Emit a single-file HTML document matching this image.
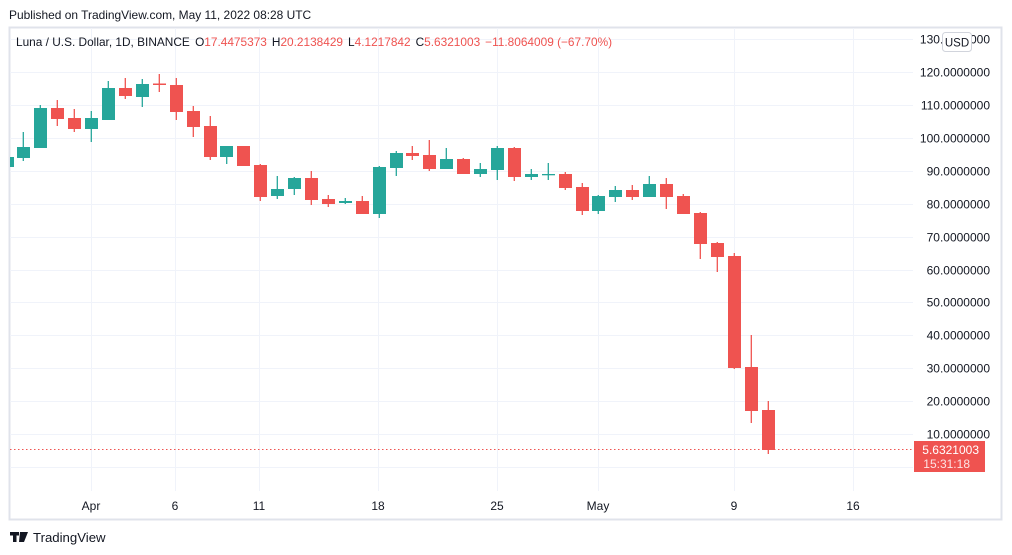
<!DOCTYPE html>
<html><head><meta charset="utf-8"><style>
html,body{margin:0;padding:0;background:#fff;width:1012px;height:555px;overflow:hidden}
svg{display:block;font-family:"Liberation Sans","DejaVu Sans",sans-serif}
</style></head><body>
<svg width="1012" height="555" viewBox="0 0 1012 555" xmlns="http://www.w3.org/2000/svg">
<text x="9" y="19" font-size="11.95" fill="#131722">Published on TradingView.com, May 11, 2022 08:28 UTC</text>
<rect x="9.5" y="27.5" width="992" height="492" fill="#fff" stroke="#e0e3eb" stroke-width="2"/>
<g stroke="#f0f3fa" stroke-width="1">
<line x1="10" x2="913" y1="39.5" y2="39.5"/><line x1="10" x2="913" y1="72.5" y2="72.5"/><line x1="10" x2="913" y1="105.5" y2="105.5"/><line x1="10" x2="913" y1="138.5" y2="138.5"/><line x1="10" x2="913" y1="171.5" y2="171.5"/><line x1="10" x2="913" y1="204.5" y2="204.5"/><line x1="10" x2="913" y1="237.5" y2="237.5"/><line x1="10" x2="913" y1="270.5" y2="270.5"/><line x1="10" x2="913" y1="302.5" y2="302.5"/><line x1="10" x2="913" y1="335.5" y2="335.5"/><line x1="10" x2="913" y1="368.5" y2="368.5"/><line x1="10" x2="913" y1="401.5" y2="401.5"/><line x1="10" x2="913" y1="434.5" y2="434.5"/><line x1="10" x2="913" y1="467.5" y2="467.5"/>
<line y1="28" y2="491" x1="91.5" x2="91.5"/><line y1="28" y2="491" x1="175.5" x2="175.5"/><line y1="28" y2="491" x1="259.5" x2="259.5"/><line y1="28" y2="491" x1="378.5" x2="378.5"/><line y1="28" y2="491" x1="497.5" x2="497.5"/><line y1="28" y2="491" x1="598.5" x2="598.5"/><line y1="28" y2="491" x1="734.5" x2="734.5"/><line y1="28" y2="491" x1="853.5" x2="853.5"/>
</g>
<g stroke-width="1.3">
<g fill="#26a69a" stroke="#26a69a">
<rect x="10" y="157" width="4" height="10" stroke="none"/>
<line x1="23.3" x2="23.3" y1="132" y2="161"/><rect x="17" y="147" width="13" height="11" stroke="none"/>
<line x1="40.3" x2="40.3" y1="105" y2="148"/><rect x="34" y="108" width="13" height="40" stroke="none"/>
<line x1="91.3" x2="91.3" y1="111" y2="142"/><rect x="85" y="118" width="13" height="11" stroke="none"/>
<line x1="108.3" x2="108.3" y1="81" y2="120"/><rect x="102" y="88" width="13" height="32" stroke="none"/>
<line x1="142.3" x2="142.3" y1="79" y2="107"/><rect x="136" y="84" width="13" height="13" stroke="none"/>
<line x1="226.7" x2="226.7" y1="146" y2="164"/><rect x="220" y="146" width="13" height="11" stroke="none"/>
<line x1="277.3" x2="277.3" y1="176" y2="199"/><rect x="271" y="189" width="13" height="7" stroke="none"/>
<line x1="294.3" x2="294.3" y1="177" y2="195"/><rect x="288" y="178" width="13" height="11" stroke="none"/>
<line x1="345.3" x2="345.3" y1="198" y2="204"/><rect x="339" y="201" width="13" height="2" stroke="none"/>
<line x1="379.3" x2="379.3" y1="166" y2="218"/><rect x="373" y="167" width="13" height="47" stroke="none"/>
<line x1="396.3" x2="396.3" y1="151" y2="176"/><rect x="390" y="153" width="13" height="15" stroke="none"/>
<line x1="446.3" x2="446.3" y1="148" y2="169"/><rect x="440" y="159" width="13" height="10" stroke="none"/>
<line x1="480.3" x2="480.3" y1="163" y2="177"/><rect x="474" y="169" width="13" height="5" stroke="none"/>
<line x1="497.3" x2="497.3" y1="146" y2="180"/><rect x="491" y="148" width="13" height="22" stroke="none"/>
<line x1="531.3" x2="531.3" y1="169" y2="180"/><rect x="525" y="174" width="13" height="3" stroke="none"/>
<line x1="548.3" x2="548.3" y1="163" y2="180"/><rect x="542" y="174" width="13" height="1.3" stroke="none"/>
<line x1="598.3" x2="598.3" y1="195" y2="214"/><rect x="592" y="196" width="13" height="15" stroke="none"/>
<line x1="615.3" x2="615.3" y1="186" y2="202"/><rect x="609" y="190" width="13" height="7" stroke="none"/>
<line x1="649.3" x2="649.3" y1="176" y2="197"/><rect x="643" y="184" width="13" height="13" stroke="none"/>
</g>
<g fill="#ef5350" stroke="#ef5350">
<line x1="57.3" x2="57.3" y1="100" y2="126"/><rect x="51" y="108" width="13" height="11" stroke="none"/>
<line x1="74.3" x2="74.3" y1="109" y2="132"/><rect x="68" y="118" width="13" height="11" stroke="none"/>
<line x1="125.3" x2="125.3" y1="78" y2="99"/><rect x="119" y="88" width="13" height="8" stroke="none"/>
<line x1="159.3" x2="159.3" y1="74" y2="92"/><rect x="153" y="83.5" width="13" height="1.5" stroke="none"/>
<line x1="176.3" x2="176.3" y1="78" y2="120"/><rect x="170" y="85" width="13" height="27" stroke="none"/>
<line x1="193.3" x2="193.3" y1="106" y2="137"/><rect x="187" y="111" width="13" height="16" stroke="none"/>
<line x1="210.3" x2="210.3" y1="116" y2="160"/><rect x="204" y="126" width="13" height="31" stroke="none"/>
<rect x="237" y="146" width="13" height="20" stroke="none"/>
<line x1="260.3" x2="260.3" y1="164" y2="201"/><rect x="254" y="165" width="13" height="32" stroke="none"/>
<line x1="311.3" x2="311.3" y1="171" y2="205"/><rect x="305" y="178" width="13" height="22" stroke="none"/>
<line x1="328.3" x2="328.3" y1="195" y2="207"/><rect x="322" y="199" width="13" height="5" stroke="none"/>
<line x1="362.3" x2="362.3" y1="196" y2="214"/><rect x="356" y="201" width="13" height="13" stroke="none"/>
<line x1="412.3" x2="412.3" y1="146" y2="160"/><rect x="406" y="153" width="13" height="3" stroke="none"/>
<line x1="429.3" x2="429.3" y1="140" y2="171"/><rect x="423" y="155" width="13" height="14" stroke="none"/>
<line x1="463.3" x2="463.3" y1="158" y2="174"/><rect x="457" y="159" width="13" height="15" stroke="none"/>
<line x1="514.3" x2="514.3" y1="147" y2="181"/><rect x="508" y="148" width="13" height="29" stroke="none"/>
<line x1="565.3" x2="565.3" y1="172" y2="190"/><rect x="559" y="174" width="13" height="14" stroke="none"/>
<line x1="582.3" x2="582.3" y1="183" y2="215"/><rect x="576" y="187" width="13" height="24" stroke="none"/>
<line x1="632.3" x2="632.3" y1="185" y2="200"/><rect x="626" y="190" width="13" height="7" stroke="none"/>
<line x1="666.3" x2="666.3" y1="178" y2="209"/><rect x="660" y="184" width="13" height="13" stroke="none"/>
<line x1="683.3" x2="683.3" y1="194" y2="214"/><rect x="677" y="196" width="13" height="18" stroke="none"/>
<line x1="700.3" x2="700.3" y1="212" y2="259"/><rect x="694" y="213" width="13" height="31" stroke="none"/>
<line x1="717.3" x2="717.3" y1="242" y2="272"/><rect x="711" y="243" width="13" height="14" stroke="none"/>
<line x1="734.3" x2="734.3" y1="253" y2="369"/><rect x="728" y="256" width="13" height="112" stroke="none"/>
<line x1="751.3" x2="751.3" y1="335" y2="423"/><rect x="745" y="367" width="13" height="44" stroke="none"/>
<line x1="768.3" x2="768.3" y1="401" y2="454"/><rect x="762" y="410" width="13" height="40" stroke="none"/>
</g>
</g>
<line x1="10" x2="913" y1="449.5" y2="449.5" stroke="#ef5350" stroke-width="1" stroke-dasharray="1.5,2.5"/>
<g font-size="12" fill="#131722" text-anchor="end">
<text x="990" y="43.5">130.0000000</text><text x="990" y="76.5">120.0000000</text><text x="990" y="109.5">110.0000000</text><text x="990" y="142.5">100.0000000</text><text x="990" y="175.5">90.0000000</text><text x="990" y="208.5">80.0000000</text><text x="990" y="241.5">70.0000000</text><text x="990" y="274.5">60.0000000</text><text x="990" y="306.5">50.0000000</text><text x="990" y="339.5">40.0000000</text><text x="990" y="372.5">30.0000000</text><text x="990" y="405.5">20.0000000</text><text x="990" y="438.5">10.0000000</text>
</g>
<rect x="942.5" y="32.5" width="29" height="19" rx="3" fill="#fff" stroke="#d1d4dc"/>
<text x="957" y="46.5" font-size="11.5" fill="#131722" text-anchor="middle">USD</text>
<rect x="914" y="441" width="71" height="31" fill="#ef5350"/>
<text x="979" y="454" font-size="12" fill="#fff" text-anchor="end">5.6321003</text>
<text x="970" y="468" font-size="12" fill="#fde3e3" text-anchor="end">15:31:18</text>
<g font-size="12" fill="#131722" text-anchor="middle">
<text x="91" y="510">Apr</text><text x="175" y="510">6</text><text x="259" y="510">11</text><text x="378" y="510">18</text><text x="497" y="510">25</text><text x="598" y="510">May</text><text x="734" y="510">9</text><text x="853" y="510">16</text>
</g>
<text x="16" y="46" font-size="11.85" fill="#131722">Luna / U.S. Dollar, 1D, BINANCE <tspan dx="2">O</tspan><tspan fill="#ef5350">17.4475373</tspan><tspan dx="5">H</tspan><tspan fill="#ef5350">20.2138429</tspan><tspan dx="5">L</tspan><tspan fill="#ef5350">4.1217842</tspan><tspan dx="5">C</tspan><tspan fill="#ef5350">5.6321003</tspan><tspan dx="5" fill="#ef5350">−11.8064009 (−67.70%)</tspan></text>
<g fill="#131722">
<rect x="10" y="532" width="9" height="3.5"/><rect x="13" y="532" width="3.5" height="10"/>
<polygon points="20,532 23.5,532 22,542 19,542"/><polygon points="23,532 28,532 24,542 20.5,542"/>
</g>
<text x="33" y="542" font-size="13.2" fill="#131722">TradingView</text>
</svg>
</body></html>
